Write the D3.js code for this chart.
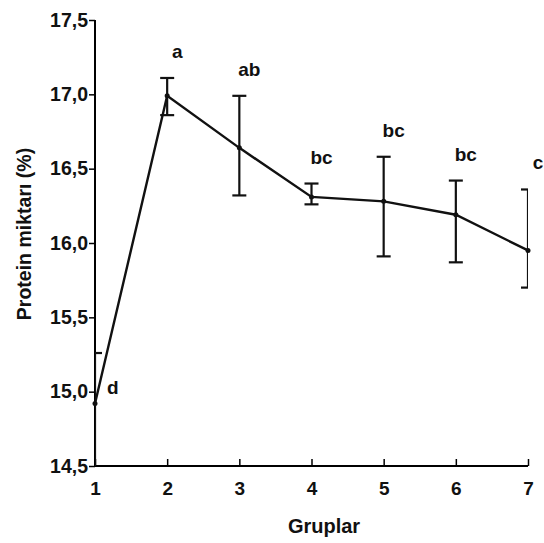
<!DOCTYPE html>
<html>
<head>
<meta charset="utf-8">
<script src="https://cdn.jsdelivr.net/npm/d3@7"></script>
<style>
  body { margin: 0; background: #fff; }
  text { font-family: "Liberation Sans", Arial, sans-serif; font-weight: bold; fill: #111; }
</style>
</head>
<body>
<div id="chart"></div>
<script>
// groups on the x axis
var groups = [1, 2, 3, 4, 5, 6, 7];
// mean protein (%) per group
var means = [14.92, 16.99, 16.64, 16.31, 16.28, 16.19, 15.95];
// error bar ends
var upper = [15.26, 17.11, 16.99, 16.40, 16.58, 16.42, 16.36];
var lower = [14.40, 16.86, 16.32, 16.26, 15.91, 15.87, 15.70];
// significance letters
var letters = ["d", "a", "ab", "bc", "bc", "bc", "c"];
var yTicks = [14.5, 15.0, 15.5, 16.0, 16.5, 17.0, 17.5];

var svgWidth = 544;
var svgHeight = 543;

var margin = { top: 20, right: 16, bottom: 77, left: 95 };
var width = svgWidth - margin.left - margin.right;
var height = svgHeight - margin.top - margin.bottom;

var svg = d3.select("#chart")
  .append("svg")
  .attr("width", svgWidth)
  .attr("height", svgHeight);

var chartGroup = svg.append("g")
  .attr("transform", `translate(${margin.left}, ${margin.top})`);

var xScale = d3.scaleLinear().domain([1, 7]).range([0, width]);
var yScale = d3.scaleLinear().domain([14.5, 17.5]).range([height, 0]);

// clip so end caps get cut at the frame
svg.append("defs").append("clipPath")
  .attr("id", "plotClip")
  .append("rect")
  .attr("x", 0).attr("y", -10)
  .attr("width", width).attr("height", height + 10);

// y axis (ticks outward)
var leftAxis = d3.axisLeft(yScale)
  .tickValues(yTicks)
  .tickSize(6)
  .tickFormat(d => d3.format(".1f")(d).replace(".", ","));

var yAxis = chartGroup.append("g").call(leftAxis);
yAxis.select(".domain").attr("stroke-width", 2).attr("d", `M0,${height}V0`);
yAxis.selectAll(".tick line").attr("stroke-width", 1.5);
yAxis.selectAll(".tick text")
  .attr("x", -7)
  .attr("font-size", "19.5px")
  .attr("fill", "#111");

// x axis (ticks inward)
var bottomAxis = d3.axisBottom(xScale)
  .tickValues(groups)
  .tickSize(-7)
  .tickFormat(d3.format("d"));

var xAxis = chartGroup.append("g")
  .attr("transform", `translate(0, ${height})`)
  .call(bottomAxis);
xAxis.select(".domain").attr("stroke-width", 2).attr("d", `M0,0H${width}`);
xAxis.selectAll(".tick line").attr("stroke-width", 1.5);
xAxis.selectAll(".tick text")
  .attr("y", 16)
  .attr("font-size", "19px")
  .attr("fill", "#111");

var data = groups.map((g, i) => ({
  g: g, mean: means[i], hi: upper[i], lo: lower[i], letter: letters[i]
}));

var plot = chartGroup.append("g").attr("clip-path", "url(#plotClip)");

// error bars
var capW = 7;
data.forEach(function(d) {
  var x = xScale(d.g);
  plot.append("line")
    .attr("x1", x).attr("x2", x)
    .attr("y1", yScale(d.hi)).attr("y2", yScale(d.lo))
    .attr("stroke", "#111").attr("stroke-width", 2.2);
  [d.hi, d.lo].forEach(function(v) {
    plot.append("line")
      .attr("x1", x - capW).attr("x2", x + capW)
      .attr("y1", yScale(v)).attr("y2", yScale(v))
      .attr("stroke", "#111").attr("stroke-width", 2.2);
  });
});

// mean line
var line = d3.line()
  .x(d => xScale(d.g))
  .y(d => yScale(d.mean));

chartGroup.append("path")
  .datum(data)
  .attr("fill", "none")
  .attr("stroke", "#111")
  .attr("stroke-width", 2.4)
  .attr("d", line);

chartGroup.selectAll(".pt")
  .data(data)
  .enter()
  .append("circle")
  .attr("cx", d => xScale(d.g))
  .attr("cy", d => yScale(d.mean))
  .attr("r", 2.5)
  .attr("fill", "#111");

// letters above the bars (first one beside its point)
chartGroup.selectAll(".sig")
  .data(data)
  .enter()
  .append("text")
  .attr("x", (d, i) => i === 0 ? xScale(d.g) + 12 : xScale(d.g) + 10)
  .attr("y", (d, i) => i === 0 ? yScale(d.mean) - 10 : yScale(d.hi) - 20)
  .attr("text-anchor", (d, i) => i === 0 ? "start" : "middle")
  .attr("font-size", "19px")
  .text(d => d.letter);

// axis titles
chartGroup.append("text")
  .attr("x", 229)
  .attr("y", height + 67)
  .attr("text-anchor", "middle")
  .attr("font-size", "20px")
  .text("Gruplar");

chartGroup.append("text")
  .attr("transform", "rotate(-90)")
  .attr("x", -214)
  .attr("y", -64)
  .attr("text-anchor", "middle")
  .attr("font-size", "19.5px")
  .text("Protein miktarı (%)");
</script>
</body>
</html>
